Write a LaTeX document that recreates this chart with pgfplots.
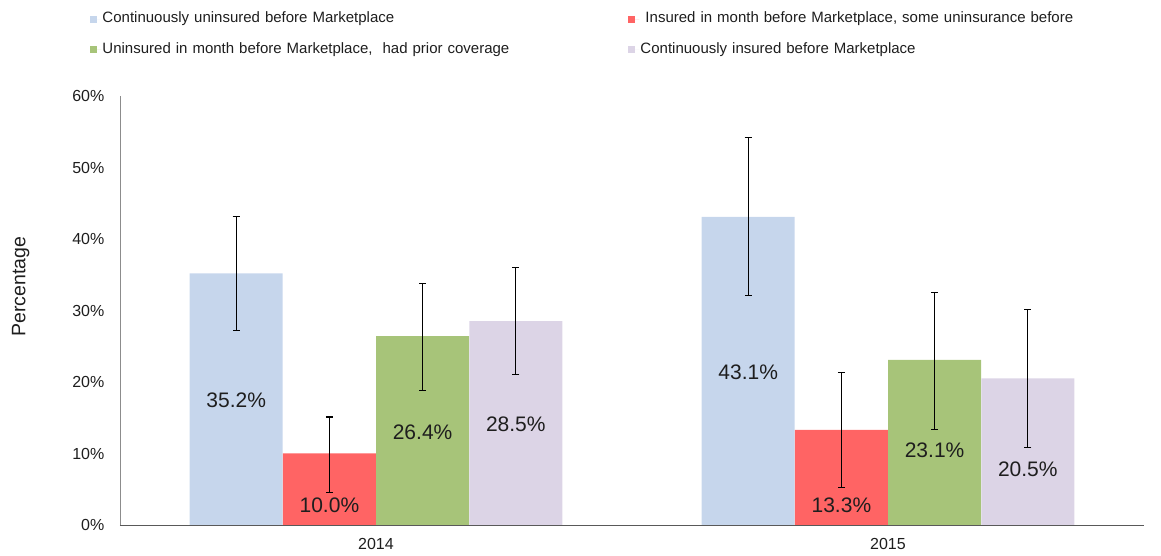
\documentclass[border=0pt]{standalone}
\usepackage{pgfplots}
\pgfplotsset{compat=1.18}
\usepackage{fontspec}
\setmainfont{Liberation Sans}
\definecolor{cblue}{RGB}{198,214,236}
\definecolor{cred}{RGB}{255,100,100}
\definecolor{cgreen}{RGB}{167,196,121}
\definecolor{cpurple}{RGB}{220,212,230}
\definecolor{txt}{RGB}{30,30,30}
\begin{document}
\begin{tikzpicture}
\path[use as bounding box] (-120pt,-31pt) rectangle (1041pt,525pt);
\begin{axis}[
  at={(0pt,0pt)}, anchor=south west,
  scale only axis, width=1024pt, height=429pt,
  xmin=-0.5, xmax=1.5, ymin=0, ymax=60,
  axis x line=bottom, axis y line=left,
  axis line style={-},
  x axis line style={draw=black!65, line width=0.9pt},
  y axis line style={draw=black!45, line width=0.8pt},
  xtick={0,1}, xticklabels={2014,2015},
  x tick style={draw=none},
  extra x ticks={0.5,1.5}, extra x tick labels={},
  extra x tick style={tick align=outside, major tick length=5pt, tick style={draw=black!65, line width=0.8pt}},
  ytick={0,10,20,30,40,50,60},
  yticklabel={\pgfmathprintnumber{\tick}\%},
  y tick style={draw=none},
  /pgf/number format/assume math mode=true,
  xticklabel style={font=\fontsize{16}{18}\selectfont, text=txt, yshift=-8pt},
  yticklabel style={font=\fontsize{16}{18}\selectfont, text=txt, xshift=-10pt},
  ylabel={Percentage},
  ylabel style={font=\fontsize{19.5}{22}\selectfont, text=txt, at={(rel axis cs:0,0.555)}, anchor=south, yshift=87pt},
  legend columns=2,
  legend style={at={(rel axis cs:-0.029,1.199)}, anchor=north west, draw=none, fill=none,
    inner sep=0pt, column sep=0pt, row sep=14pt,
    font=\fontsize{15}{17}\selectfont, text=txt,
    nodes={inner sep=1pt, text height=11pt, text depth=3.5pt, text width=525pt, align=left}},
  legend image code/.code={\fill[#1] (0pt,-3.5pt) rectangle (7pt,3.5pt); \path (0pt,0pt) -- (11pt,0pt);},
  error bars/error bar style={black, line width=1.1pt},
  error bars/error mark options={rotate=90, mark size=3.5pt, black, line width=1.1pt},
]
\addplot[ybar, bar width=0.1816, bar shift=0pt, fill=cblue, draw=none,
  error bars/.cd, y dir=both, y explicit]
  coordinates {(-0.273,35.2) += (0,8.0) -= (0,8.0)
               (0.727,43.1) += (0,11.1) -= (0,11.0)};
\addlegendentry{Continuously uninsured before Marketplace}
\addplot[ybar, bar width=0.1816, bar shift=0pt, fill=cred, draw=none,
  error bars/.cd, y dir=both, y explicit]
  coordinates {(-0.091,10.0) += (0,5.1) -= (0,5.4)
               (0.909,13.3) += (0,8.0) -= (0,8.0)};
\addlegendentry{\hspace*{5pt}Insured in month before Marketplace, some uninsurance before}
\addplot[ybar, bar width=0.1816, bar shift=0pt, fill=cgreen, draw=none,
  error bars/.cd, y dir=both, y explicit]
  coordinates {(0.091,26.4) += (0,7.4) -= (0,7.6)
               (1.091,23.1) += (0,9.4) -= (0,9.7)};
\addlegendentry{Uninsured in month before Marketplace,\ \ had prior coverage}
\addplot[ybar, bar width=0.1816, bar shift=0pt, fill=cpurple, draw=none,
  error bars/.cd, y dir=both, y explicit]
  coordinates {(0.273,28.5) += (0,7.5) -= (0,7.5)
               (1.273,20.5) += (0,9.6) -= (0,9.6)};
\addlegendentry{Continuously insured before Marketplace}
\addplot[draw=none, mark=none, forget plot, nodes near coords, point meta=explicit symbolic,
  nodes near coords align={center},
  every node near coord/.append style={anchor=center, font=\fontsize{21}{24}\selectfont, text=txt}]
  coordinates {(-0.273,17.5) [35.2\%] (-0.091,2.7) [10.0\%] (0.091,13.0) [26.4\%] (0.273,14.1) [28.5\%]
               (0.727,21.4) [43.1\%] (0.909,2.7) [13.3\%] (1.091,10.5) [23.1\%] (1.273,7.8) [20.5\%]};
\end{axis}
\end{tikzpicture}
\end{document}
